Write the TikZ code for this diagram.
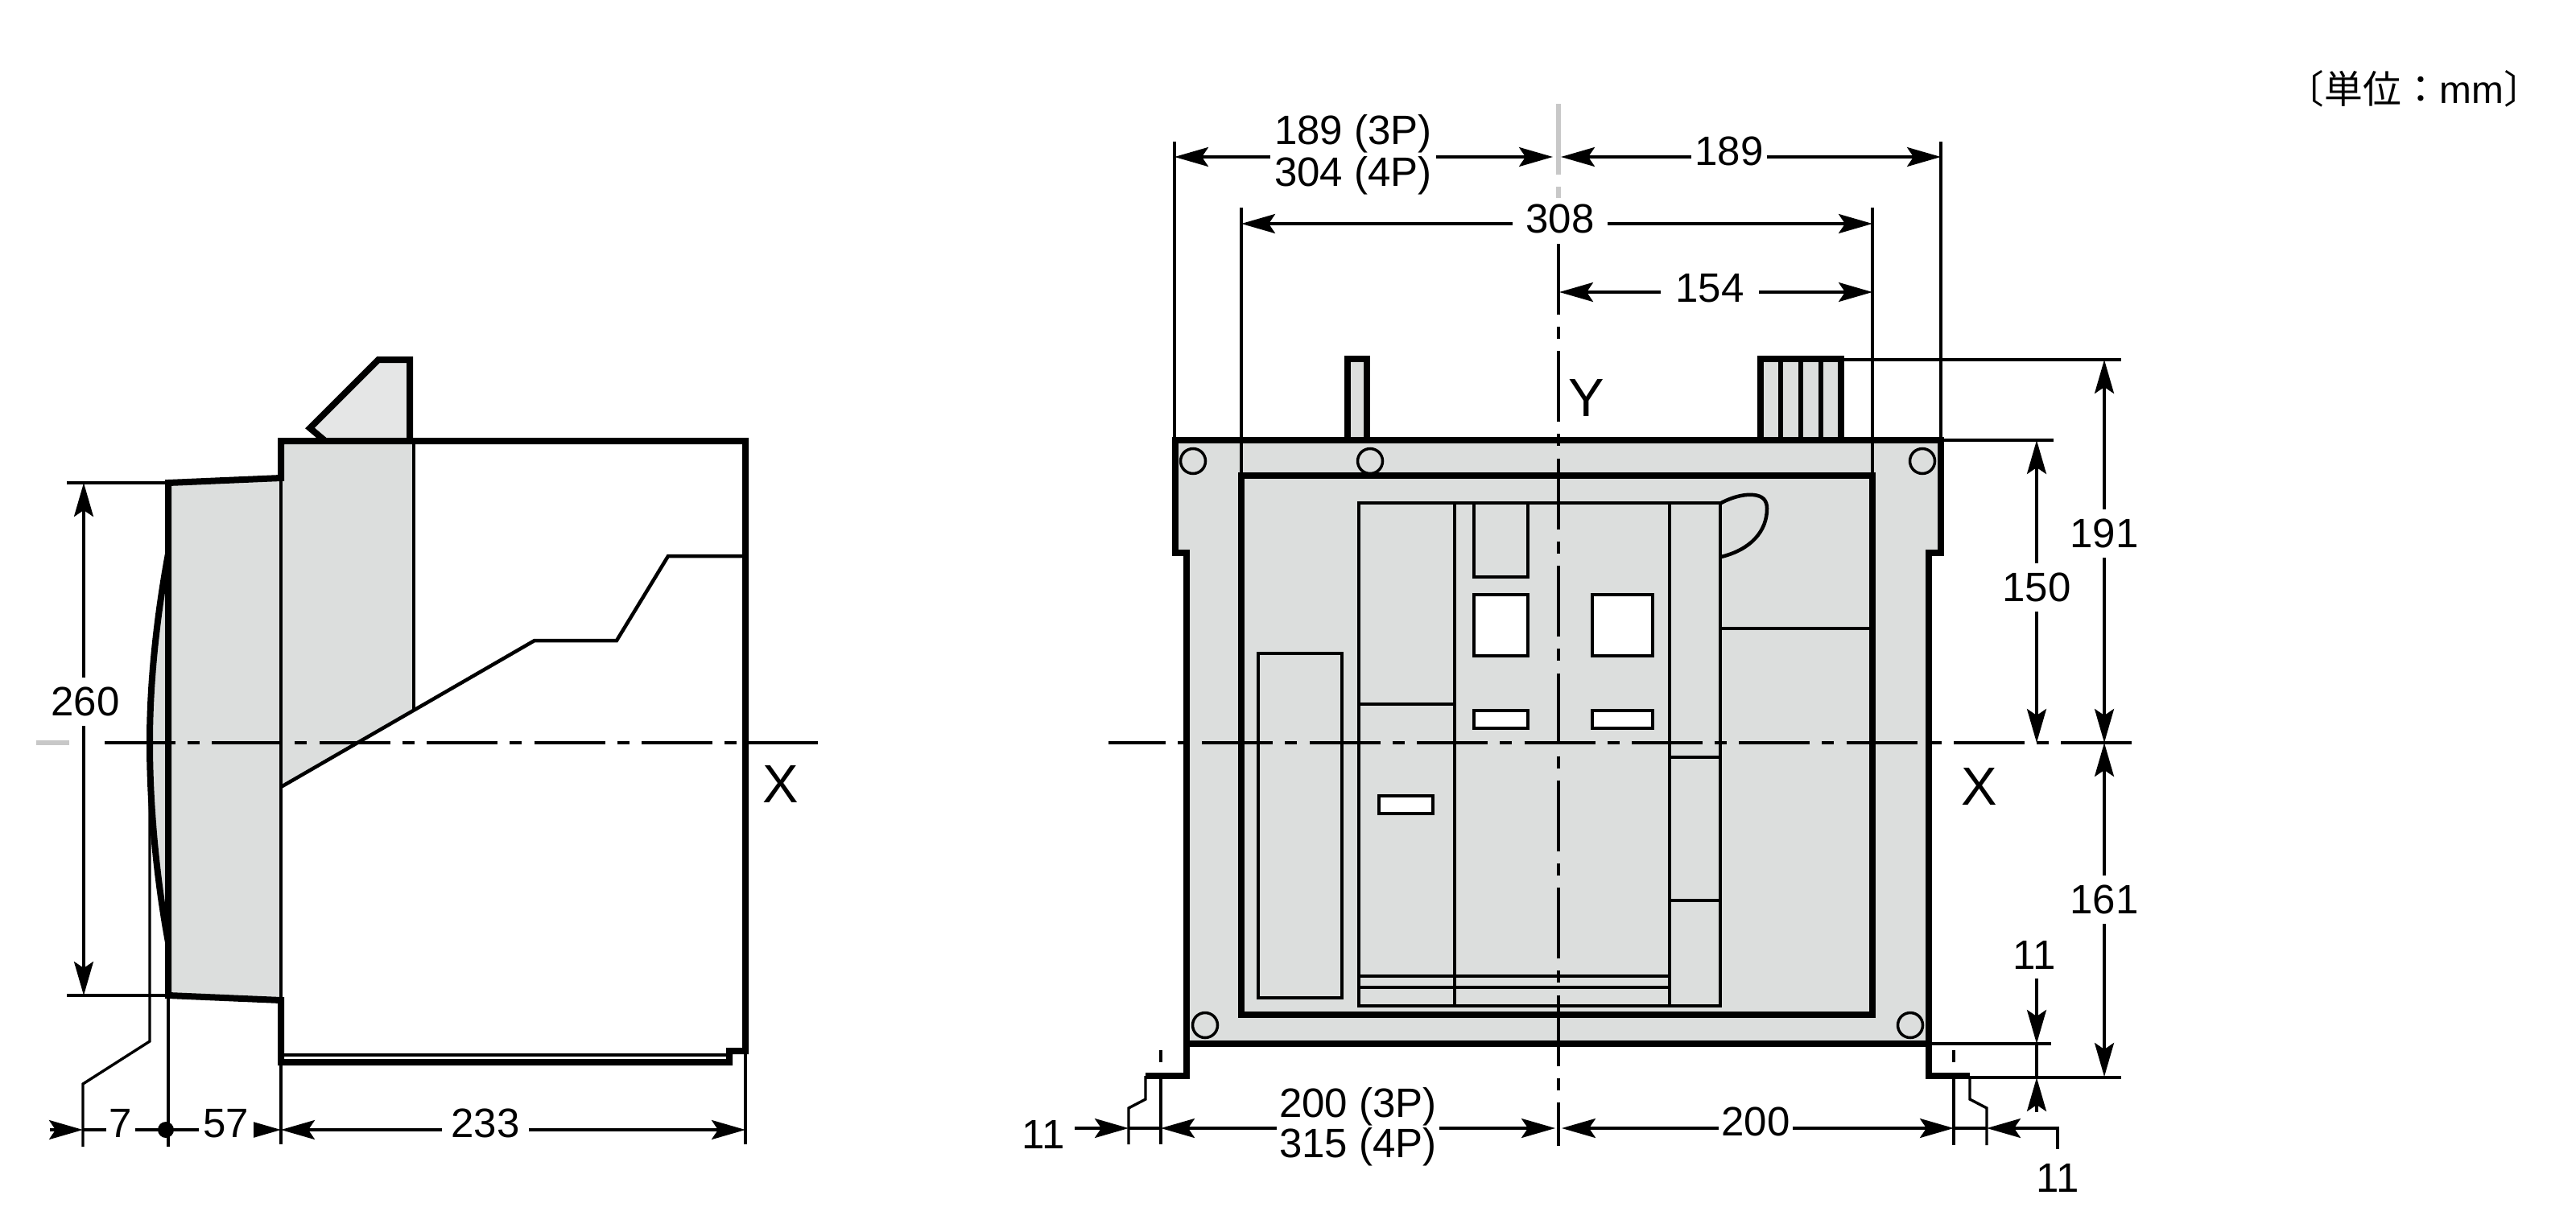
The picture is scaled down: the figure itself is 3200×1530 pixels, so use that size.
\documentclass[tikz,border=0pt]{standalone}
\usepackage{fontspec}
\setmainfont{Liberation Sans}
\newfontfamily\cjkfont{Noto Sans CJK JP}
\usetikzlibrary{arrows.meta}
\definecolor{CGray}{HTML}{DCDEDD}
\definecolor{CGrayLight}{HTML}{E5E6E6}
\definecolor{CGrayMark}{HTML}{C8C8C8}
\tikzset{
    heavy/.style={line width=0.08cm, line join=miter},
    medium/.style={line width=0.045cm},
    fine/.style={line width=0.034cm},
    dimline/.style={line width=0.034cm, >={Stealth[length=0.42cm, width=0.24cm, inset=0.08cm]}},
    centerline/.style={line width=0.034cm, dash pattern=on 0.88cm off 0.15cm on 0.15cm off 0.153cm},
    dimlabel/.style={font=\fontsize{14.5pt}{15pt}\selectfont, fill=white, inner xsep=0.05cm, inner ysep=0.03cm},
    axislabel/.style={font=\fontsize{19pt}{20pt}\selectfont, inner sep=0pt},
    panel/.style={fill=white, draw=black, line width=0.045cm}
}
\begin{document}
\begin{tikzpicture}[x=0.01cm, y=-0.01cm]
    \useasboundingbox (0,0) rectangle (3200,1530);

    % Unit note
    \node[font=\fontsize{13.6pt}{14pt}\selectfont, inner sep=0pt] (unitnote) at (2999,110) {{\cjkfont 〔単位：}mm{\cjkfont 〕}};

    % ---- Side view ----
    % Handle
    \fill[CGrayLight] (404,548) -- (385,532) -- (470,447) -- (509,447) -- (509,548) -- cycle;
    \draw[heavy] (404,548) -- (385,532) -- (470,447) -- (509,447) -- (509,548);

    % Grey part of the body
    \fill[CGray] (209,600) -- (209,688) .. controls (194,770) and (186,850) .. (186,923) .. controls (186,1000) and (194,1090) .. (209,1171) -- (209,1237) -- (349,1243) -- (349,978) -- (514,884) -- (514,548) -- (349,548) -- (349,594) -- cycle;

    % Inner lines
    \draw[fine] (349,594) -- (349,1243);
    \draw[fine] (514,548) -- (514,884);
    \draw[fine] (209,688) -- (209,1171);
    \draw[medium] (349,978) -- (664,796) -- (766,796) -- (830,691) -- (926,691);
    \draw[fine] (349,1311) -- (906,1311);

    % Outline
    \draw[heavy] (349,548) -- (349,594) -- (209,600) -- (209,1237) -- (349,1243) -- (349,1320) -- (906,1320) -- (906,1306) -- (926,1306) -- (926,548) -- cycle;
    \draw[heavy] (209,688) .. controls (194,770) and (186,850) .. (186,923) .. controls (186,1000) and (194,1090) .. (209,1171);

    % Centre line
    \draw[CGrayMark, line width=0.06cm] (45,923) -- (86,923);
    \draw[centerline] (130,923) -- (1016,923);
    \node[axislabel] (xleft) at (970,975) {X};

    % Extension lines
    \draw[fine] (83,600) -- (209,600);
    \draw[fine] (83,1237) -- (209,1237);
    \draw[fine] (186,923) -- (186,1294) -- (103,1347) -- (103,1425);
    \draw[fine] (209,1237) -- (209,1425);
    \draw[fine] (349,1320) -- (349,1422);
    \draw[fine] (926,1306) -- (926,1422);

    % Dimensions
    \draw[dimline, <->] (104,600) -- (104,1237);
    \node[dimlabel, inner ysep=0.12cm] (dimheight) at (106,872) {260};
    \draw[dimline, ->] (62,1404) -- (103,1404);
    \draw[dimline, <-] (349,1404) -- (103,1404);
    \draw[dimline, <->] (349,1404) -- (926,1404);
    \node[dimlabel, inner xsep=0.04cm] (dimseven) at (150,1396) {7};
    \node[dimlabel, inner xsep=0.06cm] (dimfiftyseven) at (281,1396) {57};
    \node[dimlabel, inner xsep=0.11cm] (dimdepth) at (603,1396) {233};
    \fill (206,1404) circle[radius=10];

    % ---- Front view ----
    % Top stubs
    \draw[heavy, fill=CGray] (1674,547) -- (1674,446) -- (1698,446) -- (1698,547);
    \draw[heavy, fill=CGray] (2187,547) -- (2187,446) -- (2287,446) -- (2287,547);
    \foreach \barx in {2212,2237,2262}
        \draw[line width=0.06cm] (\barx,446) -- (\barx,547);

    % Housing
    \fill[CGray] (1460,547) -- (1460,687) -- (1474,687) -- (1474,1297) -- (2396,1297) -- (2396,687) -- (2411,687) -- (2411,547) -- cycle;

    % Mounting holes
    \foreach \holex/\holey in {1482/573,1702/573,2388/573,1497/1274,2373/1274}
        \draw[line width=0.035cm] (\holex,\holey) circle[radius=15.5];

    \draw[heavy] (1423,1337) -- (1474,1337) -- (1474,687) -- (1460,687) -- (1460,547) -- (2411,547) -- (2411,687) -- (2396,687) -- (2396,1337) -- (2447,1337);
    \draw[heavy] (1474,1297) -- (2396,1297);
    \draw[heavy] (1542,591) rectangle (2326,1261);

    % Breaker front
    \draw[fine] (1688,1250) -- (1688,625) -- (2137,625) -- (2137,1250) -- cycle;
    \draw[medium] (1807,625) -- (1807,1250);
    \draw[medium] (2074,625) -- (2074,1250);
    \draw[medium] (1831,625) -- (1831,717) -- (1898,717) -- (1898,625);
    \draw[panel] (1831,739) rectangle (1898,815);
    \draw[panel] (1978,739) rectangle (2053,815);
    \draw[panel] (1831,883) rectangle (1898,905);
    \draw[panel] (1978,883) rectangle (2053,905);
    \draw[panel] (1713,989) rectangle (1780,1011);
    \draw[medium] (1563,812) rectangle (1667,1240);
    \draw[fine] (1688,875) -- (1807,875);
    \draw[fine] (2074,941) -- (2137,941);
    \draw[fine] (2074,1119) -- (2137,1119);
    \draw[fine] (2137,781) -- (2326,781);
    \draw[fine] (1688,1213) -- (2072,1213);
    \draw[fine] (1688,1227) -- (2072,1227);
    \draw[medium] (2138,625) .. controls (2155,616) and (2170,614) .. (2178,615) .. controls (2190,616) and (2195,622) .. (2195,632) .. controls (2195,660) and (2175,683) .. (2138,692);

    % Feet
    \draw[fine] (1423,1337) -- (1423,1366) -- (1402,1377) -- (1402,1422);
    \draw[fine] (2447,1337) -- (2447,1366) -- (2468,1377) -- (2468,1423);
    \draw[fine] (1442,1305) -- (1442,1320);
    \draw[fine] (1442,1337) -- (1442,1422);
    \draw[fine] (2427,1305) -- (2427,1320);
    \draw[fine] (2427,1337) -- (2427,1423);

    % Centre lines
    \draw[CGrayMark, line width=0.06cm] (1936,129) -- (1936,217);
    \draw[CGrayMark, line width=0.06cm] (1936,232) -- (1936,246);
    \draw[centerline] (1936,303) -- (1936,1424);
    \draw[centerline, dash phase=0.17cm] (1377,923) -- (2648,923);
    \node[axislabel] (yfront) at (1971,495) {Y};
    \node[axislabel] (xfront) at (2459,978) {X};

    % Extension lines
    \draw[fine] (1459,176) -- (1459,547);
    \draw[fine] (1542,258) -- (1542,591);
    \draw[fine] (2411,176) -- (2411,547);
    \draw[fine] (2326,258) -- (2326,591);
    \draw[fine] (2287,447) -- (2635,447);
    \draw[fine] (2411,547) -- (2551,547);
    \draw[fine] (2396,1297) -- (2548,1297);
    \draw[fine] (2447,1339) -- (2635,1339);

    % Dimensions above
    \draw[dimline, <->] (1459,195) -- (1929,195);
    \draw[dimline, <->] (1939,195) -- (2411,195);
    \draw[dimline, <->] (1542,278) -- (2326,278);
    \draw[dimline, <->] (1937,363) -- (2326,363);
    \node[dimlabel, inner xsep=0.05cm, inner ysep=0.05cm] (dimhalffour) at (1681,218) {304 (4P)};
    \node[dimlabel, inner xsep=0.05cm, inner ysep=0pt] (dimhalfthree) at (1681,166) {189 (3P)};
    \node[dimlabel, inner xsep=0.04cm] (dimhalfright) at (2148,188) {189};
    \node[dimlabel, inner xsep=0.16cm] (dimframe) at (1938,272) {308};
    \node[dimlabel, inner xsep=0.18cm] (dimframehalf) at (2124,358) {154};

    % Dimensions at the right
    \draw[dimline, <->] (2530,547) -- (2530,923);
    \draw[dimline, <->] (2614,447) -- (2614,923);
    \draw[dimline, <->] (2614,923) -- (2614,1338);
    \node[dimlabel, inner ysep=0.12cm] (dimframeup) at (2530,730) {150};
    \node[dimlabel, inner ysep=0.12cm] (dimtop) at (2614,663) {191};
    \node[dimlabel, inner ysep=0.12cm] (dimbottom) at (2614,1118) {161};
    \draw[dimline, ->] (2530,1216) -- (2530,1297);
    \draw[dimline] (2530,1297) -- (2530,1339);
    \draw[dimline, ->] (2530,1382) -- (2530,1339);
    \node[dimlabel, fill=none] (dimfoot) at (2527,1187) {11};

    % Dimensions below
    \draw[dimline, ->] (1335,1402) -- (1402,1402);
    \draw[dimline] (1402,1402) -- (1442,1402);
    \draw[dimline, <->] (1442,1402) -- (1932,1402);
    \draw[dimline, <->] (1940,1402) -- (2427,1402);
    \draw[dimline] (2427,1402) -- (2468,1402);
    \draw[dimline, <-] (2468,1402) -- (2556,1402) -- (2556,1428);
    \node[dimlabel, fill=none] (dimfootleft) at (1296,1410) {11};
    \node[dimlabel, inner xsep=0.03cm, inner ysep=0.05cm] (dimfeetfour) at (1687,1425) {315 (4P)};
    \node[dimlabel, inner xsep=0.03cm, inner ysep=0pt] (dimfeetthree) at (1687,1375) {200 (3P)};
    \node[dimlabel, inner xsep=0.03cm] (dimfeetright) at (2181,1394) {200};
    \node[dimlabel, fill=none] (dimfootright) at (2556,1464) {11};
\end{tikzpicture}
\end{document}
